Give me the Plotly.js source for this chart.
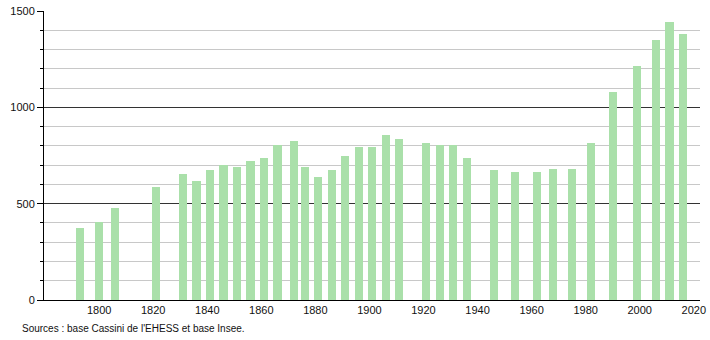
<!DOCTYPE html>
<html>
<head>
<meta charset="utf-8">
<script src="https://cdn.plot.ly/plotly-3.0.1.min.js"></script>
<style>html,body{margin:0;padding:0;background:#fff;}#chart{width:710px;height:340px;}</style>
</head>
<body>
<div id="chart"></div>
<script>
const years = [1793, 1800, 1806, 1821, 1831, 1836, 1841, 1846, 1851, 1856, 1861, 1866, 1872, 1876, 1881, 1886, 1891, 1896, 1901, 1906, 1911, 1921, 1926, 1931, 1936, 1946, 1954, 1962, 1968, 1975, 1982, 1990, 1999, 2006, 2011, 2016];
const population = [372, 403, 476, 585, 654, 619, 675, 699, 689, 720, 735, 803, 824, 689, 637, 673, 749, 794, 794, 855, 834, 817, 803, 803, 735, 675, 666, 665, 680, 680, 813, 1081, 1214, 1349, 1443, 1381];
const xTickVals = [1800, 1820, 1840, 1860, 1880, 1900, 1920, 1940, 1960, 1980, 2000, 2020];
const yTickVals = [0, 500, 1000, 1500];
const sourceText = "Sources : base Cassini de l'EHESS et base Insee.";

const font = 'Liberation Sans, Arial, sans-serif';
const trace = {
  type: 'bar',
  x: years,
  y: population,
  width: 3,
  marker: {color: 'rgb(170,224,170)', line: {width: 0}},
  hoverinfo: 'x+y'
};
const layout = {
  width: 710, height: 340,
  margin: {l: 44, r: 10, t: 11, b: 40, pad: 0},
  paper_bgcolor: '#fff', plot_bgcolor: '#fff',
  showlegend: false,
  font: {family: font, size: 11, color: '#111'},
  xaxis: {
    range: [1779.6, 2022.3],
    tickvals: xTickVals,
    ticks: '',
    showgrid: false,
    zeroline: false,
    showline: true, linecolor: '#000', linewidth: 1,
    tickfont: {family: font, size: 11, color: '#111'}
  },
  yaxis: {
    range: [0, 1500],
    tickvals: yTickVals,
    ticks: 'outside', ticklen: 6, tickcolor: '#000', tickwidth: 1,
    showgrid: true, gridcolor: '#333', gridwidth: 1,
    zeroline: false,
    showline: true, linecolor: '#000', linewidth: 1,
    tickfont: {family: font, size: 11, color: '#111'},
    minor: {dtick: 100, showgrid: true, gridcolor: '#c8c8c8', gridwidth: 1, ticks: 'outside', ticklen: 3, tickcolor: '#000'}
  },
  annotations: [{
    text: sourceText,
    xref: 'paper', yref: 'paper',
    x: (20 - 44) / 656, y: (300 - 328) / 289,
    xanchor: 'left', yanchor: 'middle',
    showarrow: false,
    font: {family: font, size: 10, color: '#111'}
  }],
  bargap: 0
};
Plotly.newPlot('chart', [trace], layout, {displayModeBar: false, staticPlot: true});
</script>
</body>
</html>
